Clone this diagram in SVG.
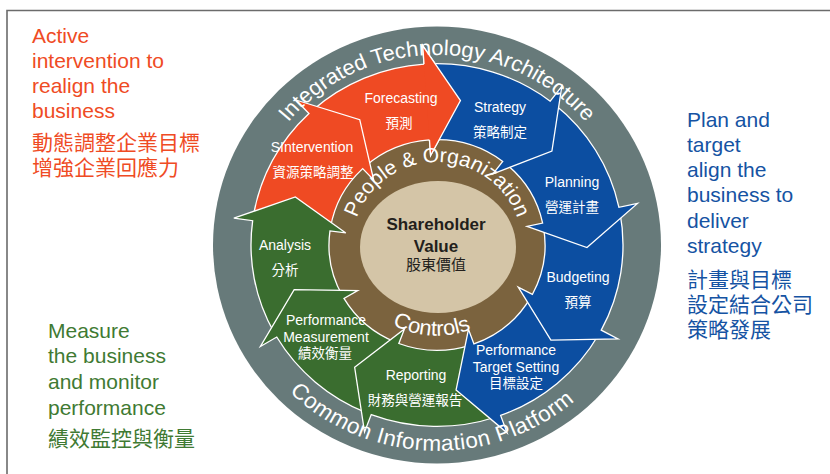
<svg xmlns="http://www.w3.org/2000/svg" width="830" height="474" viewBox="0 0 830 474">
<style>
text{font-family:"Liberation Sans",Arial,"Noto Sans CJK TC",sans-serif}
.seg{stroke:#fff;stroke-width:1.3;stroke-linejoin:miter}
.or{fill:#ef4a23}.bl{fill:#0c4ea1}.gr{fill:#3a6d2f}
.lbl{fill:#fff;font-size:14px;text-anchor:middle}
.zh{fill:#fff;font-size:13.5px;text-anchor:middle}
.ring{fill:#fff;font-size:22px}
.side{font-size:21px}
.o{fill:#ef4b24}.b{fill:#1553a3}.g{fill:#3f7a33}
</style>
<defs>
<path id="arcTop" d="M -195 0 A 195 195 0 0 1 195 0"/>
<path id="arcBottom" d="M -211 0 A 211 211 0 0 0 211 0"/>
<path id="arcPeople" d="M -85 0 A 85 85 0 0 1 85 0"/>
<path id="arcControls" d="M -93 0 A 93 93 0 0 0 93 0"/>
</defs>
<rect width="830" height="474" fill="#fff"/>
<path d="M7 474 V10.5 H830" fill="none" stroke="#6b6b6b" stroke-width="1.6"/>

<g id="side-texts">
<text class="side o" x="32"><tspan x="32" y="43">Active</tspan><tspan x="32" y="68">intervention to</tspan><tspan x="32" y="93">realign the</tspan><tspan x="32" y="118">business</tspan><tspan x="32" y="150">動態調整企業目標</tspan><tspan x="32" y="175">增強企業回應力</tspan></text>
<text class="side b" x="687"><tspan x="687" y="127">Plan and</tspan><tspan x="687" y="152">target</tspan><tspan x="687" y="177">align the</tspan><tspan x="687" y="202">business to</tspan><tspan x="687" y="228">deliver</tspan><tspan x="687" y="253">strategy</tspan><tspan x="687" y="287">計畫與目標</tspan><tspan x="687" y="312">設定結合公司</tspan><tspan x="687" y="337">策略發展</tspan></text>
<text class="side g" x="48"><tspan x="48" y="338">Measure</tspan><tspan x="48" y="363">the business</tspan><tspan x="48" y="389">and monitor</tspan><tspan x="48" y="415">performance</tspan><tspan x="48" y="446">績效監控與衡量</tspan></text>
</g>

<g id="wheel" transform="translate(437,245) scale(1,0.975)">
<circle id="outer-ring" r="224" fill="#677a7a"/>
<circle id="inner-ring" r="109" fill="#7b633e"/>
</g>

<g id="connectors"></g>

<g transform="translate(437,245) scale(1,0.975)">
<g id="forecasting-shape"><path id="fcPath" class="seg or" d="M -124.46 -138.22 A 186 186 0 0 1 -12.98 -185.55 L -14.30 -204.50 L 23.46 -148.15 L -6.42 -91.78 L -7.53 -107.74 A 108 108 0 0 0 -72.27 -80.26 Z"/></g>
<g id="intervention-shape"><path class="seg or" d="M -183.61 -29.74 A 186 186 0 0 1 -128.03 -134.92 L -141.11 -148.70 L -77.26 -128.58 L -63.33 -66.73 L -74.34 -78.34 A 108 108 0 0 0 -106.61 -17.27 Z"/></g>
<g id="analysis-shape"><path class="seg gr" d="M -162.68 90.17 A 186 186 0 0 1 -184.32 -24.92 L -203.15 -27.47 L -141.66 -49.33 L -91.17 -12.33 L -107.03 -14.47 A 108 108 0 0 0 -94.46 52.36 Z"/></g>
<g id="measurement-shape"><path class="seg gr" d="M -70.28 172.21 A 186 186 0 0 1 -160.26 94.40 L -176.63 104.05 L -142.82 45.86 L -79.27 46.69 L -93.06 54.81 A 108 108 0 0 0 -40.81 99.99 Z"/></g>
<g id="reporting-shape"><path class="seg gr" d="M 59.02 176.39 A 186 186 0 0 1 -65.75 173.99 L -72.46 191.77 L -82.35 125.37 L -32.52 86.06 L -38.17 101.03 A 108 108 0 0 0 34.27 102.42 Z"/></g>
<g id="target-shape"><path class="seg bl" d="M 161.89 91.59 A 186 186 0 0 1 63.62 174.78 L 70.11 192.64 L 19.06 148.79 L 31.47 86.45 L 36.94 101.49 A 108 108 0 0 0 94.00 53.18 Z"/></g>
<g id="budgeting-shape"><path class="seg bl" d="M 182.88 -33.90 A 186 186 0 0 1 164.23 87.32 L 181.00 96.24 L 113.89 97.62 L 81.23 43.19 L 95.36 50.70 A 108 108 0 0 0 106.19 -19.68 Z"/></g>
<g id="planning-shape"><path class="seg bl" d="M 117.05 -144.55 A 186 186 0 0 1 181.94 -38.67 L 200.52 -42.62 L 149.98 2.62 L 89.99 -19.13 L 105.64 -22.45 A 108 108 0 0 0 67.97 -83.93 Z"/></g>
<g id="strategy-shape"><path class="seg bl" d="M -8.11 -185.82 A 186 186 0 0 1 113.23 -147.56 L 124.80 -162.64 L 114.91 -96.42 L 56.01 -72.99 L 65.75 -85.68 A 108 108 0 0 0 -4.71 -107.90 Z"/></g>
<path class="seg or" d="M -12.98 -185.55 L -14.30 -204.50 L 23.46 -148.15 L -6.42 -91.78 L -7.53 -107.74"/>

<text class="ring"><textPath href="#arcTop" startOffset="50%" text-anchor="middle">Integrated Technology Architecture</textPath></text>
<text class="ring" style="font-size:22.5px;letter-spacing:0.5px"><textPath href="#arcBottom" startOffset="49%" text-anchor="middle">Common Information Platform</textPath></text>
<text class="ring" style="font-size:21px"><textPath href="#arcPeople" startOffset="50%" text-anchor="middle">People &amp; Organization</textPath></text>
<text class="ring"><textPath href="#arcControls" startOffset="48%" text-anchor="middle">Controls</textPath></text>
</g>

<g id="center">
<ellipse cx="438" cy="247" rx="78" ry="66" fill="#d4c5a7"/>
<text x="436" y="230" text-anchor="middle" font-size="17" font-weight="bold" fill="#231f1c">Shareholder</text>
<text x="436" y="252" text-anchor="middle" font-size="17" font-weight="bold" fill="#231f1c">Value</text>
<text x="436" y="270" text-anchor="middle" font-size="15" fill="#231f1c">股東價值</text>
</g>

<g id="forecasting"><text class="lbl" x="401" y="103">Forecasting</text><text class="zh" x="399" y="128">預測</text></g>
<g id="strategy"><text class="lbl" x="500" y="112">Strategy</text><text class="zh" x="500" y="137">策略制定</text></g>
<g id="planning"><text class="lbl" x="572" y="187">Planning</text><text class="zh" x="572" y="212">營運計畫</text></g>
<g id="budgeting"><text class="lbl" x="578" y="282">Budgeting</text><text class="zh" x="578" y="307">預算</text></g>
<g id="target-setting"><text class="lbl" x="516" y="355">Performance</text><text class="lbl" x="516" y="372">Target Setting</text><text class="zh" x="516" y="388">目標設定</text></g>
<g id="reporting"><text class="lbl" x="416" y="380">Reporting</text><text class="zh" x="415" y="405">財務與營運報告</text></g>
<g id="measurement"><text class="lbl" x="326" y="325">Performance</text><text class="lbl" x="326" y="342">Measurement</text><text class="zh" x="325" y="358">績效衡量</text></g>
<g id="analysis"><text class="lbl" x="285" y="250">Analysis</text><text class="zh" x="285" y="275">分析</text></g>
<g id="intervention"><text class="lbl" x="312" y="152">SIntervention</text><text class="zh" x="313" y="177">資源策略調整</text></g>
</svg>
